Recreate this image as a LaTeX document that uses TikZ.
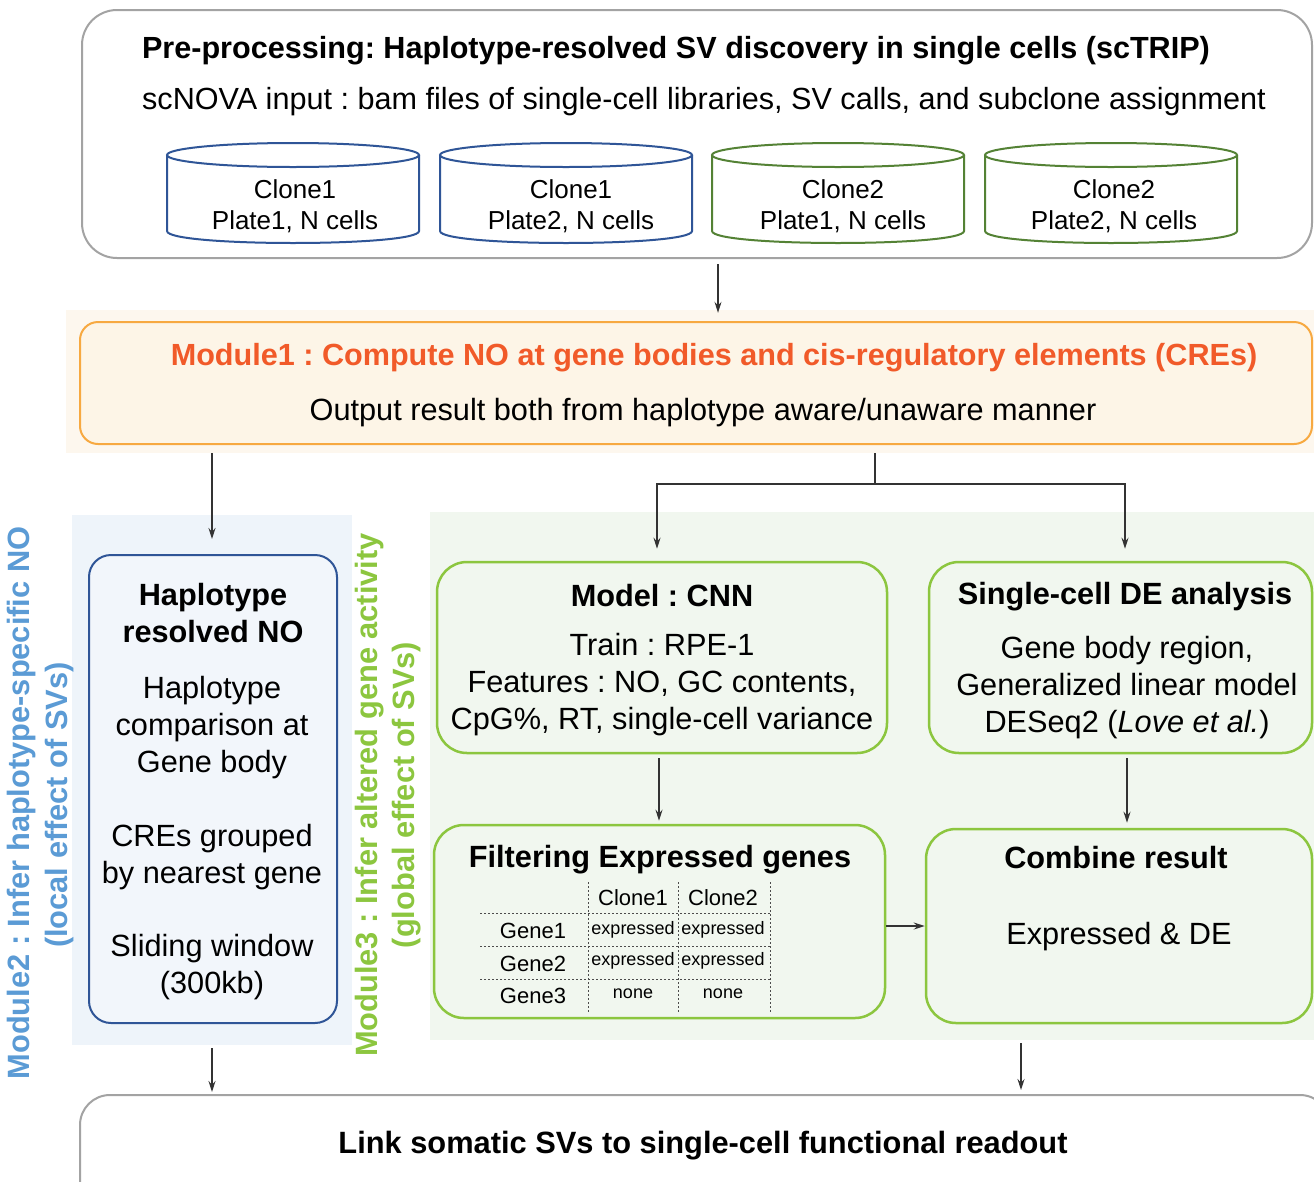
\documentclass[tikz,border=0pt]{standalone}
\usepackage{fontspec}
\setmainfont{Liberation Sans}
\usetikzlibrary{arrows.meta,calc}
\frenchspacing
\definecolor{graybox}{HTML}{A3A3A3}
\definecolor{cylblue}{HTML}{2F5597}
\definecolor{cylgreen}{HTML}{548235}
\definecolor{orstroke}{HTML}{F7A941}
\definecolor{orfill}{HTML}{FDF5E7}
\definecolor{orbg}{HTML}{FDF7EE}
\definecolor{mOne}{HTML}{F15A29}
\definecolor{bluebg}{HTML}{EEF4FA}
\definecolor{bluefill}{HTML}{F2F6FB}
\definecolor{mTwo}{HTML}{5B9BD5}
\definecolor{greenbg}{HTML}{F1F7EF}
\definecolor{grstroke}{HTML}{8CC63F}
\definecolor{mThree}{HTML}{8CC63F}
\definecolor{arrcol}{HTML}{333333}
\newcommand{\fs}[1]{\fontsize{#1}{#1}\selectfont}
\tikzset{
  bx/.style={draw, rectangle, rounded corners=#1, inner sep=0pt},
  bgrect/.style={draw=none, rectangle, inner sep=0pt},
  body/.style={inner sep=0pt, align=center, font=\fontsize{30.7}{37}\selectfont},
  bbody/.style={inner sep=0pt, align=center, font=\bfseries\fontsize{30.7}{37}\selectfont},
  arr/.style={draw=arrcol, line width=1.3pt, -{Stealth[length=11pt,width=7pt]}},
  ln/.style={draw=arrcol, line width=1.3pt},
  tdash/.style={draw=black!70, line width=0.9pt, dash pattern=on 2pt off 2pt},
  cyltxt/.style={inner sep=0pt, align=center, font=\fontsize{26}{31}\selectfont},
  small/.style={inner sep=0pt, font=\fontsize{18}{20}\selectfont},
  mid/.style={inner sep=0pt, font=\fontsize{22}{24}\selectfont},
  rot/.style={inner sep=0pt, rotate=90, font=\bfseries\fontsize{30.8}{36}\selectfont},
}
\newcommand{\mycyl}[3]{% center x, color, name
  \draw[#2, line width=2pt] (#1-126,155) -- (#1-126,231)
     .. controls (#1-126,247) and (#1+126,247) .. (#1+126,231) -- (#1+126,155);
  \draw[#2, line width=2pt, fill=white] (#1,155) ellipse [x radius=126pt, y radius=12pt];
}
\begin{document}
\begin{tikzpicture}[x=1pt,y=-1pt]
\useasboundingbox (0,0) rectangle (1314,1181);
\clip (0,0) rectangle (1314,1181);
\fill[white] (0,0) rectangle (1314,1181);

% ---------- top box
\node[bx=35pt, draw=graybox, line width=2pt, minimum width=1230pt, minimum height=248pt] (top) at (697,134) {};
\node[inner sep=0pt, font=\bfseries\fs{30.6}] (t1) at (676,51) {Pre-processing: Haplotype-resolved SV discovery in single cells (scTRIP)};
\node[inner sep=0pt, font=\fs{30.6}] (t2) at (704,102) {scNOVA input : bam files of single-cell libraries, SV calls, and subclone assignment};

\mycyl{293}{cylblue}{c1}
\mycyl{566}{cylblue}{c2}
\mycyl{838}{cylgreen}{c3}
\mycyl{1111}{cylgreen}{c4}
\node[cyltxt] (c1t) at (295,206) {Clone1\\Plate1, N cells};
\node[cyltxt] (c2t) at (571,206) {Clone1\\Plate2, N cells};
\node[cyltxt] (c3t) at (843,206) {Clone2\\Plate1, N cells};
\node[cyltxt] (c4t) at (1114,206) {Clone2\\Plate2, N cells};

% ---------- module 1
\node[bgrect, fill=orbg, minimum width=1248pt, minimum height=143pt] (m1bg) at (690,381.5) {};
\node[bx=18pt, draw=orstroke, fill=orfill, line width=2pt, minimum width=1232pt, minimum height=122pt] (m1) at (696,383) {};
\node[inner sep=0pt, text=mOne, font=\bfseries\fs{30.6}] (m1t) at (714,358) {Module1 : Compute NO at gene bodies and cis-regulatory elements (CREs)};
\node[inner sep=0pt, font=\fs{30.7}] (m1s) at (703,413) {Output result both from haplotype aware/unaware manner};

% ---------- module 2
\node[bgrect, fill=bluebg, minimum width=280pt, minimum height=530pt] (m2bg) at (212,780) {};
\node[bx=22pt, draw=cylblue, fill=bluefill, line width=2pt, minimum width=248pt, minimum height=468pt] (hap) at (213,789) {};
\node[bbody] (h1) at (213,613) {Haplotype\\resolved NO};
\node[body] (h2) at (212,728) {Haplotype\\comparison at\\Gene body};
\node[body] (h3) at (212,857) {CREs grouped\\by nearest gene};
\node[body] (h4) at (212,967) {Sliding window\\(300kb)};
\node[rot, text=mTwo] (m2a) at (22,803) {Module2 : Infer haplotype-specific NO};
\node[rot, text=mTwo] (m2b) at (60,805) {(local effect of SVs)};

% ---------- module 3
\node[bgrect, fill=greenbg, minimum width=884pt, minimum height=528pt] (m3bg) at (872,776) {};
\node[rot, text=mThree] (m3a) at (370,795) {Module3 : Infer altered gene activity};
\node[rot, text=mThree] (m3b) at (407,795) {(global effect of SVs)};

\node[bx=30pt, draw=grstroke, fill=greenbg, line width=2.5pt, minimum width=450pt, minimum height=191pt] (cnn) at (662,657.5) {};
\node[bbody] (cnnt) at (662,596) {Model : CNN};
\node[body] (cnnb) at (662,685) {Train : RPE-1\\Features : NO, GC contents,\\CpG\%, RT, single-cell variance};

\node[bx=30pt, draw=grstroke, fill=greenbg, line width=2.5pt, minimum width=383pt, minimum height=191pt] (de) at (1120.5,657.5) {};
\node[bbody] (det) at (1125,597) {Single-cell DE analysis};
\node[body] (deb) at (1127,688) {Gene body region,\\Generalized linear model\\DESeq2 (\textit{Love et al.})};

\node[bx=30pt, draw=grstroke, fill=greenbg, line width=2.5pt, minimum width=451pt, minimum height=193pt] (filt) at (659.5,921.5) {};
\node[bbody] (filtt) at (660,860) {Filtering Expressed genes};
% table
\coordinate (tv1) at (588,882); \coordinate (tv2) at (678,882); \coordinate (tv3) at (770,882);
\draw[tdash] (tv1) -- ++(0,130);
\draw[tdash] (tv2) -- ++(0,130);
\draw[tdash] (tv3) -- ++(0,130);
\coordinate (th1) at (480,913); \coordinate (th2) at (480,946); \coordinate (th3) at (480,979);
\draw[tdash] (th1) -- ++(290,0);
\draw[tdash] (th2) -- ++(290,0);
\draw[tdash] (th3) -- ++(290,0);
\node[mid] (hc1) at (633,898) {Clone1};
\node[mid] (hc2) at (723,898) {Clone2};
\node[mid] (g1) at (533,931) {Gene1};
\node[mid] (g2) at (533,964) {Gene2};
\node[mid] (g3) at (533,996) {Gene3};
\node[small] (e11) at (633,930) {expressed};
\node[small] (e12) at (723,930) {expressed};
\node[small] (e21) at (633,961) {expressed};
\node[small] (e22) at (723,961) {expressed};
\node[small] (e31) at (633,994) {none};
\node[small] (e32) at (723,994) {none};

\node[bx=30pt, draw=grstroke, fill=greenbg, line width=2.5pt, minimum width=386pt, minimum height=194pt] (comb) at (1119,926) {};
\node[bbody] (combt) at (1116,858) {Combine result};
\node[body] (combb) at (1119,937) {Expressed \& DE};

% ---------- bottom
\node[bx=30pt, draw=graybox, line width=2pt, minimum width=1250pt, minimum height=130pt] (bot) at (705,1160) {};
\node[inner sep=0pt, font=\bfseries\fs{30.8}] (bott) at (703,1146) {Link somatic SVs to single-cell functional readout};

% ---------- connectors
\coordinate (xa) at (718,0);
\coordinate (xl) at (212,0);
\coordinate (xs) at (875,0);
\coordinate (xc) at (657,0);
\coordinate (xd) at (1125,0);
\coordinate (xf) at (659,0);
\coordinate (xe) at (1127,0);
\coordinate (xb) at (1021,0);
\coordinate (ysplit) at (0,484);
\draw[arr] ([yshift=-5pt]top.south -| xa) -- ([yshift=-3pt]m1bg.north -| xa);
\draw[arr] (m1bg.south -| xl) -- ([yshift=15pt]hap.north -| xl);
\draw[ln] (m1bg.south -| xs) -- (ysplit -| xs);
\draw[arr] (ysplit -| xs) -| ([yshift=12pt]cnn.north -| xc);
\draw[arr] (ysplit -| xs) -| ([yshift=12pt]de.north -| xd);
\draw[arr] ([yshift=-4pt]cnn.south -| xf) -- ([yshift=3pt]filt.north -| xf);
\draw[arr] ([yshift=-4pt]de.south -| xe) -- ([yshift=5pt]comb.north -| xe);
\draw[arr] (filt.east |- comb.center) -- (comb.west |- comb.center);
\draw[arr] ([yshift=-3pt]m2bg.south -| xl) -- ([yshift=2pt]bot.north -| xl);
\draw[arr] ([yshift=-3pt]m3bg.south -| xb) -- ([yshift=4pt]bot.north -| xb);
\end{tikzpicture}
\end{document}
